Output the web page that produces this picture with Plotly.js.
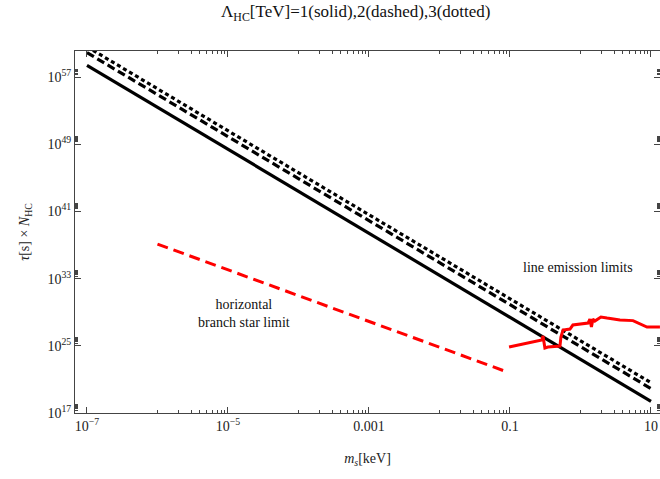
<!DOCTYPE html>
<html>
<head>
<meta charset="utf-8">
<script src="https://cdn.plot.ly/plotly-3.0.1.min.js"></script>
<style>html,body{margin:0;padding:0;background:#fff;}#chart{width:660px;height:479px;}</style>
</head>
<body>
<div id="chart"></div>
<script>
// Scalar mass m_s [keV] for the Lambda_HC lines
const massGrid = [1e-7, 1e-5, 1e-3, 0.1, 10];
const tauSolid  = [2.5e58, 2.5e48, 2.5e38, 2.5e28, 2.5e18];   // Lambda_HC = 1 TeV
const tauDashed = [8e59, 8e49, 8e39, 8e29, 8e19];             // Lambda_HC = 2 TeV
const tauDotted = [4e60, 4e50, 4e40, 4e30, 4e20];             // Lambda_HC = 3 TeV

// Horizontal branch star limit (red dashed)
const hbMass = [1e-6, 0.09];
const hbTau  = [1.3e37, 8e21];

// Line emission limits (red solid)
const lineMass = [0.097, 0.21, 0.284, 0.294, 0.313, 0.346, 0.512, 0.528, 0.565, 0.71, 0.78, 1.28, 1.36, 1.43, 1.5, 1.6, 1.95, 2.38, 3.63, 5.56, 8.78, 13.4];
const lineTau  = [7.2e24, 2.8e25, 4.9e25, 1.5e26, 5.5e24, 7.2e24, 9.5e24, 1.1e26, 7.6e26, 1e27, 3e27, 5.1e27, 1.5e28, 1.7e27, 1.5e28, 8.9e27, 2.7e28, 2e28, 1.2e28, 1e28, 1.7e27, 1.7e27];

// Tick labels
const xTickVals = [1e-7, 1e-5, 1e-3, 0.1, 10];
const xTickText = ["10<sup>\u22127</sup>", "10<sup>\u22125</sup>", "0.001", "0.1", "10"];
const yTickVals = [1e17, 1e25, 1e33, 1e41, 1e49, 1e57];
const yTickText = ["10<sup>17</sup>", "10<sup>25</sup>", "10<sup>33</sup>", "10<sup>41</sup>", "10<sup>49</sup>", "10<sup>57</sup>"];

// minor ticks (Mathematica style)
const xMinor = [];
[-7, -5, -3, -1, 1].forEach(function (e) {
  for (let n = 1; n <= 9; n++) xMinor.push(n * Math.pow(10, e + 1));
});
const yMinor = [];
[17, 25, 33, 41, 49, 57].forEach(function (e) {
  for (let n = 2; n <= 9; n++) yMinor.push(n * Math.pow(10, e));
});

const font = "Liberation Serif, Times New Roman, serif";

const traces = [
  {x: massGrid, y: tauSolid, mode: "lines", line: {color: "#000", width: 3.2}},
  {x: massGrid, y: tauDashed, mode: "lines", line: {color: "#000", width: 3.2, dash: "8px,4px"}},
  {x: massGrid, y: tauDotted, mode: "lines", line: {color: "#000", width: 3.2, dash: "4px,3px"}},
  {x: hbMass, y: hbTau, mode: "lines", line: {color: "#ff0000", width: 3, dash: "11px,6px"}},
  {x: lineMass, y: lineTau, mode: "lines", line: {color: "#ff0000", width: 3}}
];

const axisCommon = {
  showgrid: false, zeroline: false, showline: true, linecolor: "#444", linewidth: 1,
  mirror: "allticks", ticks: "inside", ticklen: 6, tickcolor: "#444", tickwidth: 1,
  tickfont: {family: font, size: 14, color: "#222"}
};

const layout = {
  width: 660, height: 479,
  margin: {l: 75, r: 0, t: 51, b: 66},
  paper_bgcolor: "#fff", plot_bgcolor: "#fff",
  showlegend: false, hovermode: false,
  font: {family: font, color: "#222"},
  xaxis: Object.assign({}, axisCommon, {
    type: "log", range: [-7.17, 1.128],
    tickmode: "array", tickvals: xTickVals, ticktext: xTickText,
    minor: {tickmode: "array", tickvals: xMinor, ticks: "inside", ticklen: 3, tickcolor: "#444"},
    title: {text: "<i>m</i><sub><i>s</i></sub>[keV]", font: {family: font, size: 14, color: "#222"}, standoff: 20}
  }),
  yaxis: Object.assign({}, axisCommon, {
    type: "log", range: [17, 60.1],
    tickmode: "array", tickvals: yTickVals, ticktext: yTickText,
    minor: {tickmode: "array", tickvals: yMinor, ticks: "inside", ticklen: 3, tickcolor: "#444"},
    title: {text: "<i>\u03c4</i>[s] \u00d7 <i>N</i><sub>HC</sub>", font: {family: font, size: 14, color: "#222"}, standoff: 14}
  }),
  annotations: [
    {xref: "paper", yref: "paper", x: 0.48, y: 1, yanchor: "middle", yshift: 38, showarrow: false,
     text: "\u039b<sub>HC</sub>[TeV]=1(solid),2(dashed),3(dotted)", font: {family: font, size: 17, color: "#111"}},
    {xref: "x", yref: "y", x: Math.log10(0.93), y: 34.3, showarrow: false,
     text: "line emission limits", font: {family: font, size: 14, color: "#111"}},
    {xref: "x", yref: "y", x: Math.log10(1.7e-5), y: 28.9, showarrow: false,
     text: "horizontal<br>branch star limit", font: {family: font, size: 14, color: "#111"}}
  ]
};

Plotly.newPlot("chart", traces, layout, {staticPlot: true, displayModeBar: false});
</script>
</body>
</html>
